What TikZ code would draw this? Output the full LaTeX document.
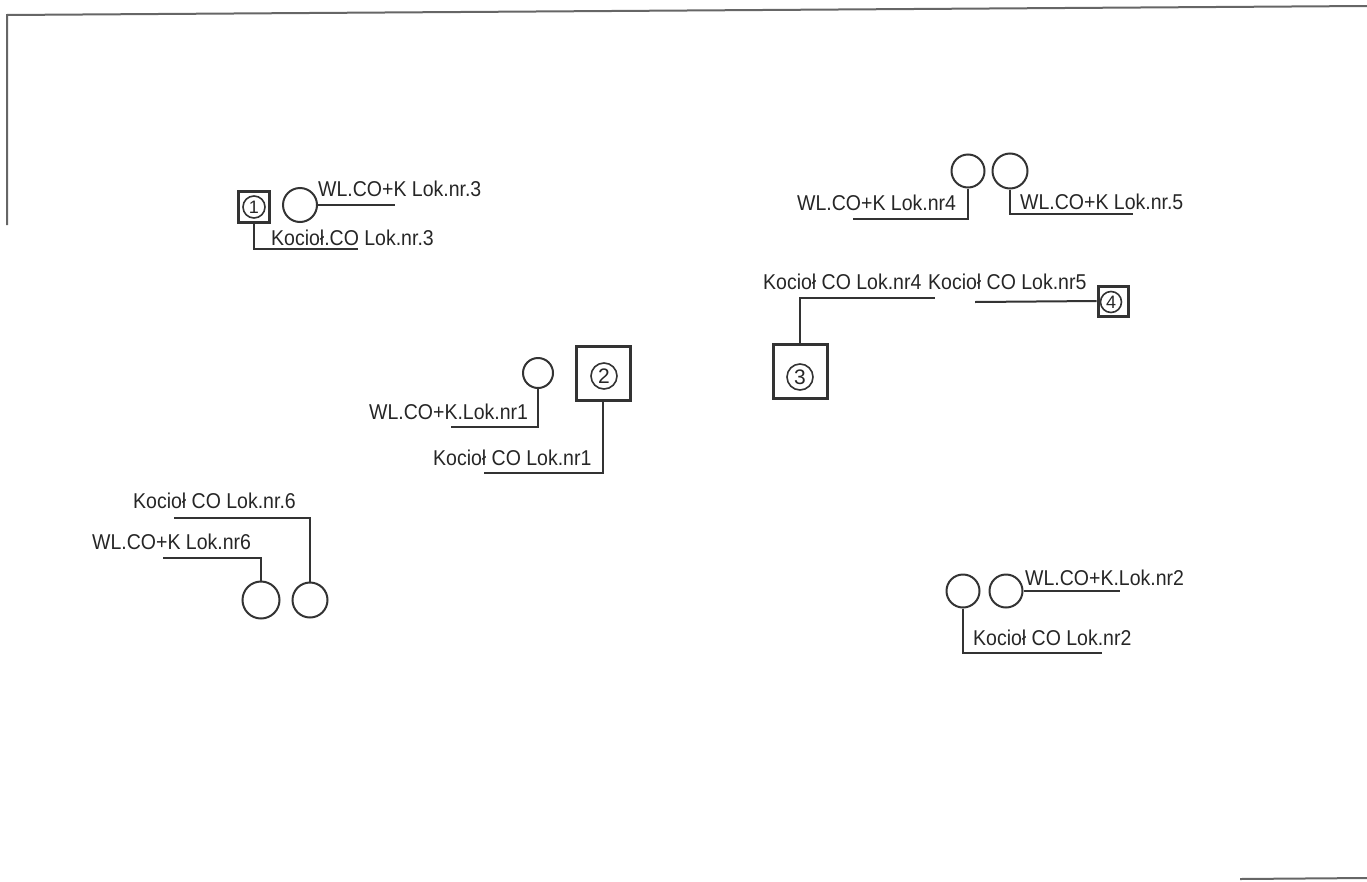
\documentclass[tikz,border=0pt]{standalone}
\usepackage{fontspec}
\setmainfont{Liberation Sans}
\usetikzlibrary{positioning}

\begin{document}
\begin{tikzpicture}[
        x=1pt, y=-1pt,
        font=\fontsize{19.5}{21}\selectfont,
        every node/.style={text=black!85},
        lbl/.style={anchor=base west, inner sep=0pt, yscale=1.1, transform shape},
        heater/.style={draw=black!80, circle, line width=2pt, inner sep=0pt},
        furnace/.style={draw=black!80, line width=3pt, inner sep=0pt},
        numcirc/.style={draw=black!80, circle, line width=1.6pt, inner sep=0pt,
                        font=\fontsize{21}{21}\selectfont},
        lead/.style={draw=black!80, line width=2pt},
        frame/.style={draw=black!60, line width=2pt}
      ]
        \useasboundingbox (0,0) rectangle (1367,881);

        % sheet edges
        \draw[frame] (7,225) -- (7,15) -- (1367,6);
        \draw[frame] (1240,879) -- (1367,878);

        % Lok.nr.3
        \node[furnace, minimum size=31pt] (b1) at (254,207) {};
        \node[numcirc, minimum size=22pt, font=\fontsize{18}{18}\selectfont] at (b1) {1};
        \node[heater, minimum size=34pt] (wl3) at (300,205) {};
        \coordinate (wl3e) at (395,205);
        \coordinate (k3e) at (358,249);
        \node[lbl] (twl3) at (318,196) {WL.CO+K Lok.nr.3};
        \node[lbl] (tk3) at (271,245) {Kocioł.CO Lok.nr.3};
        \draw[lead] (wl3.east) -- (wl3e);
        \draw[lead] (b1.south) |- (k3e);

        % Lok.nr4 / nr.5
        \node[heater, minimum size=33pt] (wl4) at (968,171) {};
        \node[heater, minimum size=35pt] (wl5) at (1010,171) {};
        \coordinate (wl4e) at (853,219);
        \coordinate (wl5e) at (1133,214);
        \node[lbl] (twl4) at (797,210) {WL.CO+K Lok.nr4};
        \node[lbl] (twl5) at (1020,209) {WL.CO+K Lok.nr.5};
        \draw[lead] (wl4.south) |- (wl4e);
        \draw[lead] (wl5.south) |- (wl5e);

        \node[furnace, minimum size=54pt] (b3) at (800,371) {};
        \node[numcirc, minimum size=26pt] at (800,377) {3};
        \node[furnace, minimum size=30pt] (b4) at (1113,301) {};
        \node[numcirc, minimum size=21pt, font=\fontsize{18}{18}\selectfont] at (1111,302) {4};
        \coordinate (k4e) at (935,298);
        \coordinate (k5e) at (975,302);
        \node[lbl] (tk4) at (763,289) {Kocioł CO Lok.nr4};
        \node[lbl] (tk5) at (928,289) {Kocioł CO Lok.nr5};
        \draw[lead] (b3.north) |- (k4e);
        \draw[lead] (b4.west) -- (k5e);

        % Lok.nr1
        \node[heater, minimum size=30pt] (wl1) at (538,373) {};
        \node[furnace, minimum size=54pt] (b2) at (603,373) {};
        \node[numcirc, minimum size=26pt] at (604,376) {2};
        \coordinate (wl1e) at (451,427);
        \coordinate (k1e) at (484,473);
        \node[lbl] (twl1) at (369,419) {WL.CO+K.Lok.nr1};
        \node[lbl] (tk1) at (433,465) {Kocioł CO Lok.nr1};
        \draw[lead] (wl1.south) |- (wl1e);
        \draw[lead] (b2.south) |- (k1e);

        % Lok.nr6
        \node[heater, minimum size=37pt] (wl6) at (261,600) {};
        \node[heater, minimum size=35pt] (kc6) at (310,600) {};
        \coordinate (wl6e) at (163,558);
        \coordinate (k6e) at (174,518);
        \node[lbl] (twl6) at (92,549) {WL.CO+K Lok.nr6};
        \node[lbl] (tk6) at (133,508) {Kocioł CO Lok.nr.6};
        \draw[lead] (wl6.north) |- (wl6e);
        \draw[lead] (kc6.north) |- (k6e);

        % Lok.nr2
        \node[heater, minimum size=33pt] (kc2) at (963,591) {};
        \node[heater, minimum size=33pt] (wl2) at (1006,591) {};
        \coordinate (wl2e) at (1120,591);
        \coordinate (k2e) at (1102,653);
        \node[lbl] (twl2) at (1025,585) {WL.CO+K.Lok.nr2};
        \node[lbl] (tk2) at (973,645) {Kocioł CO Lok.nr2};
        \draw[lead] (wl2.east) -- (wl2e);
        \draw[lead] (kc2.south) |- (k2e);
      \end{tikzpicture}
\end{document}
